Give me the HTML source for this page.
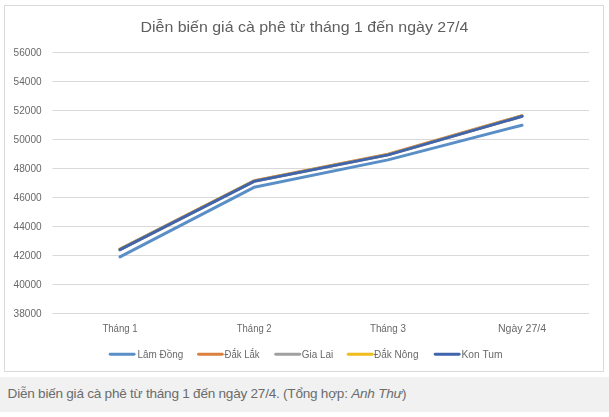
<!DOCTYPE html>
<html><head><meta charset="utf-8">
<style>
html,body{margin:0;padding:0;background:#fff;width:609px;height:417px;overflow:hidden}
svg{position:absolute;left:0;top:0;display:block}
.cap{position:absolute;left:0;top:377px;width:609px;height:35px;background:#f1f1f1}
.cap span{position:absolute;left:7.6px;top:9.4px;font:13.6px/15px "Liberation Sans",sans-serif;letter-spacing:-0.25px;color:#6c6c6c;white-space:nowrap}
</style></head><body>
<svg style="will-change:transform" width="609" height="377" viewBox="0 0 609 377" font-family="Liberation Sans, sans-serif">
<rect x="4.5" y="5.5" width="599" height="366" fill="#fff" stroke="#d9d9d9" stroke-width="1"/>
<g stroke="#d9d9d9" stroke-width="1">
<line x1="52.5" x2="589" y1="52.5" y2="52.5"/>
<line x1="52.5" x2="589" y1="81.5" y2="81.5"/>
<line x1="52.5" x2="589" y1="110.5" y2="110.5"/>
<line x1="52.5" x2="589" y1="139.5" y2="139.5"/>
<line x1="52.5" x2="589" y1="168.5" y2="168.5"/>
<line x1="52.5" x2="589" y1="197.5" y2="197.5"/>
<line x1="52.5" x2="589" y1="226.5" y2="226.5"/>
<line x1="52.5" x2="589" y1="255.5" y2="255.5"/>
<line x1="52.5" x2="589" y1="284.5" y2="284.5"/>
<line x1="52.5" x2="589" y1="313.5" y2="313.5"/>
</g>
<text x="140.5" y="31.9" font-size="14.8" fill="#5e5e5e" textLength="327.8" lengthAdjust="spacingAndGlyphs">Diễn biến giá cà phê từ tháng 1 đến ngày 27/4</text>
<g font-size="10.8" fill="#686868">
<text x="13.6" y="55.8" textLength="28" lengthAdjust="spacingAndGlyphs">56000</text>
<text x="13.6" y="84.8" textLength="28" lengthAdjust="spacingAndGlyphs">54000</text>
<text x="13.6" y="113.8" textLength="28" lengthAdjust="spacingAndGlyphs">52000</text>
<text x="13.6" y="142.8" textLength="28" lengthAdjust="spacingAndGlyphs">50000</text>
<text x="13.6" y="171.8" textLength="28" lengthAdjust="spacingAndGlyphs">48000</text>
<text x="13.6" y="200.8" textLength="28" lengthAdjust="spacingAndGlyphs">46000</text>
<text x="13.6" y="229.8" textLength="28" lengthAdjust="spacingAndGlyphs">44000</text>
<text x="13.6" y="258.8" textLength="28" lengthAdjust="spacingAndGlyphs">42000</text>
<text x="13.6" y="287.8" textLength="28" lengthAdjust="spacingAndGlyphs">40000</text>
<text x="13.6" y="316.8" textLength="28" lengthAdjust="spacingAndGlyphs">38000</text>
<text x="102.4" y="332" textLength="35.3" lengthAdjust="spacingAndGlyphs">Tháng 1</text>
<text x="236.8" y="332" textLength="34.8" lengthAdjust="spacingAndGlyphs">Tháng 2</text>
<text x="369.9" y="332" textLength="36" lengthAdjust="spacingAndGlyphs">Tháng 3</text>
<text x="497.9" y="332" textLength="48.3" lengthAdjust="spacingAndGlyphs">Ngày 27/4</text>
<text x="137.5" y="357.8" textLength="45.7" lengthAdjust="spacingAndGlyphs">Lâm Đồng</text>
<text x="224.6" y="357.8" textLength="35" lengthAdjust="spacingAndGlyphs">Đắk Lắk</text>
<text x="301.7" y="357.8" textLength="31.5" lengthAdjust="spacingAndGlyphs">Gia Lai</text>
<text x="374" y="357.8" textLength="44.5" lengthAdjust="spacingAndGlyphs">Đắk Nông</text>
<text x="461.5" y="357.8" textLength="41" lengthAdjust="spacingAndGlyphs">Kon Tum</text>
</g>
<g stroke-width="2.9" stroke-linecap="round" fill="none">
<line x1="110.2" x2="134.1" y1="354.2" y2="354.2" stroke="#5a8ec6"/>
<line x1="198.5" x2="222.3" y1="354.2" y2="354.2" stroke="#dc8040"/>
<line x1="275.7" x2="299.8" y1="354.2" y2="354.2" stroke="#a0a0a0"/>
<line x1="348.2" x2="372.3" y1="354.2" y2="354.2" stroke="#f0bc20"/>
<line x1="435.2" x2="459.1" y1="354.2" y2="354.2" stroke="#4064ad"/>
</g>
<g stroke-width="3" stroke-linecap="round" stroke-linejoin="round" fill="none">
<polyline stroke="#5a8ec6" points="120,256.9 254,187.3 388,159.9 522,125.2"/>
<polyline stroke="#dc8040" points="120,249.1 254,180.8 388,154.3 522,115.7"/>
<polyline stroke="#a0a0a0" points="120,249.7 254,181.4 388,154.9 522,116.3"/>
<polyline stroke="#f0bc20" points="120,249.4 254,181.1 388,154.6 522,116.0"/>
<polyline stroke="#4064ad" points="120,249.7 254,181.4 388,154.9 522,116.3"/>
</g>
</svg>
<div class="cap"><span>Diễn biến giá cà phê từ tháng 1 đến ngày 27/4. (Tổng hợp: <i>Anh Thư</i>)</span></div>
</body></html>
